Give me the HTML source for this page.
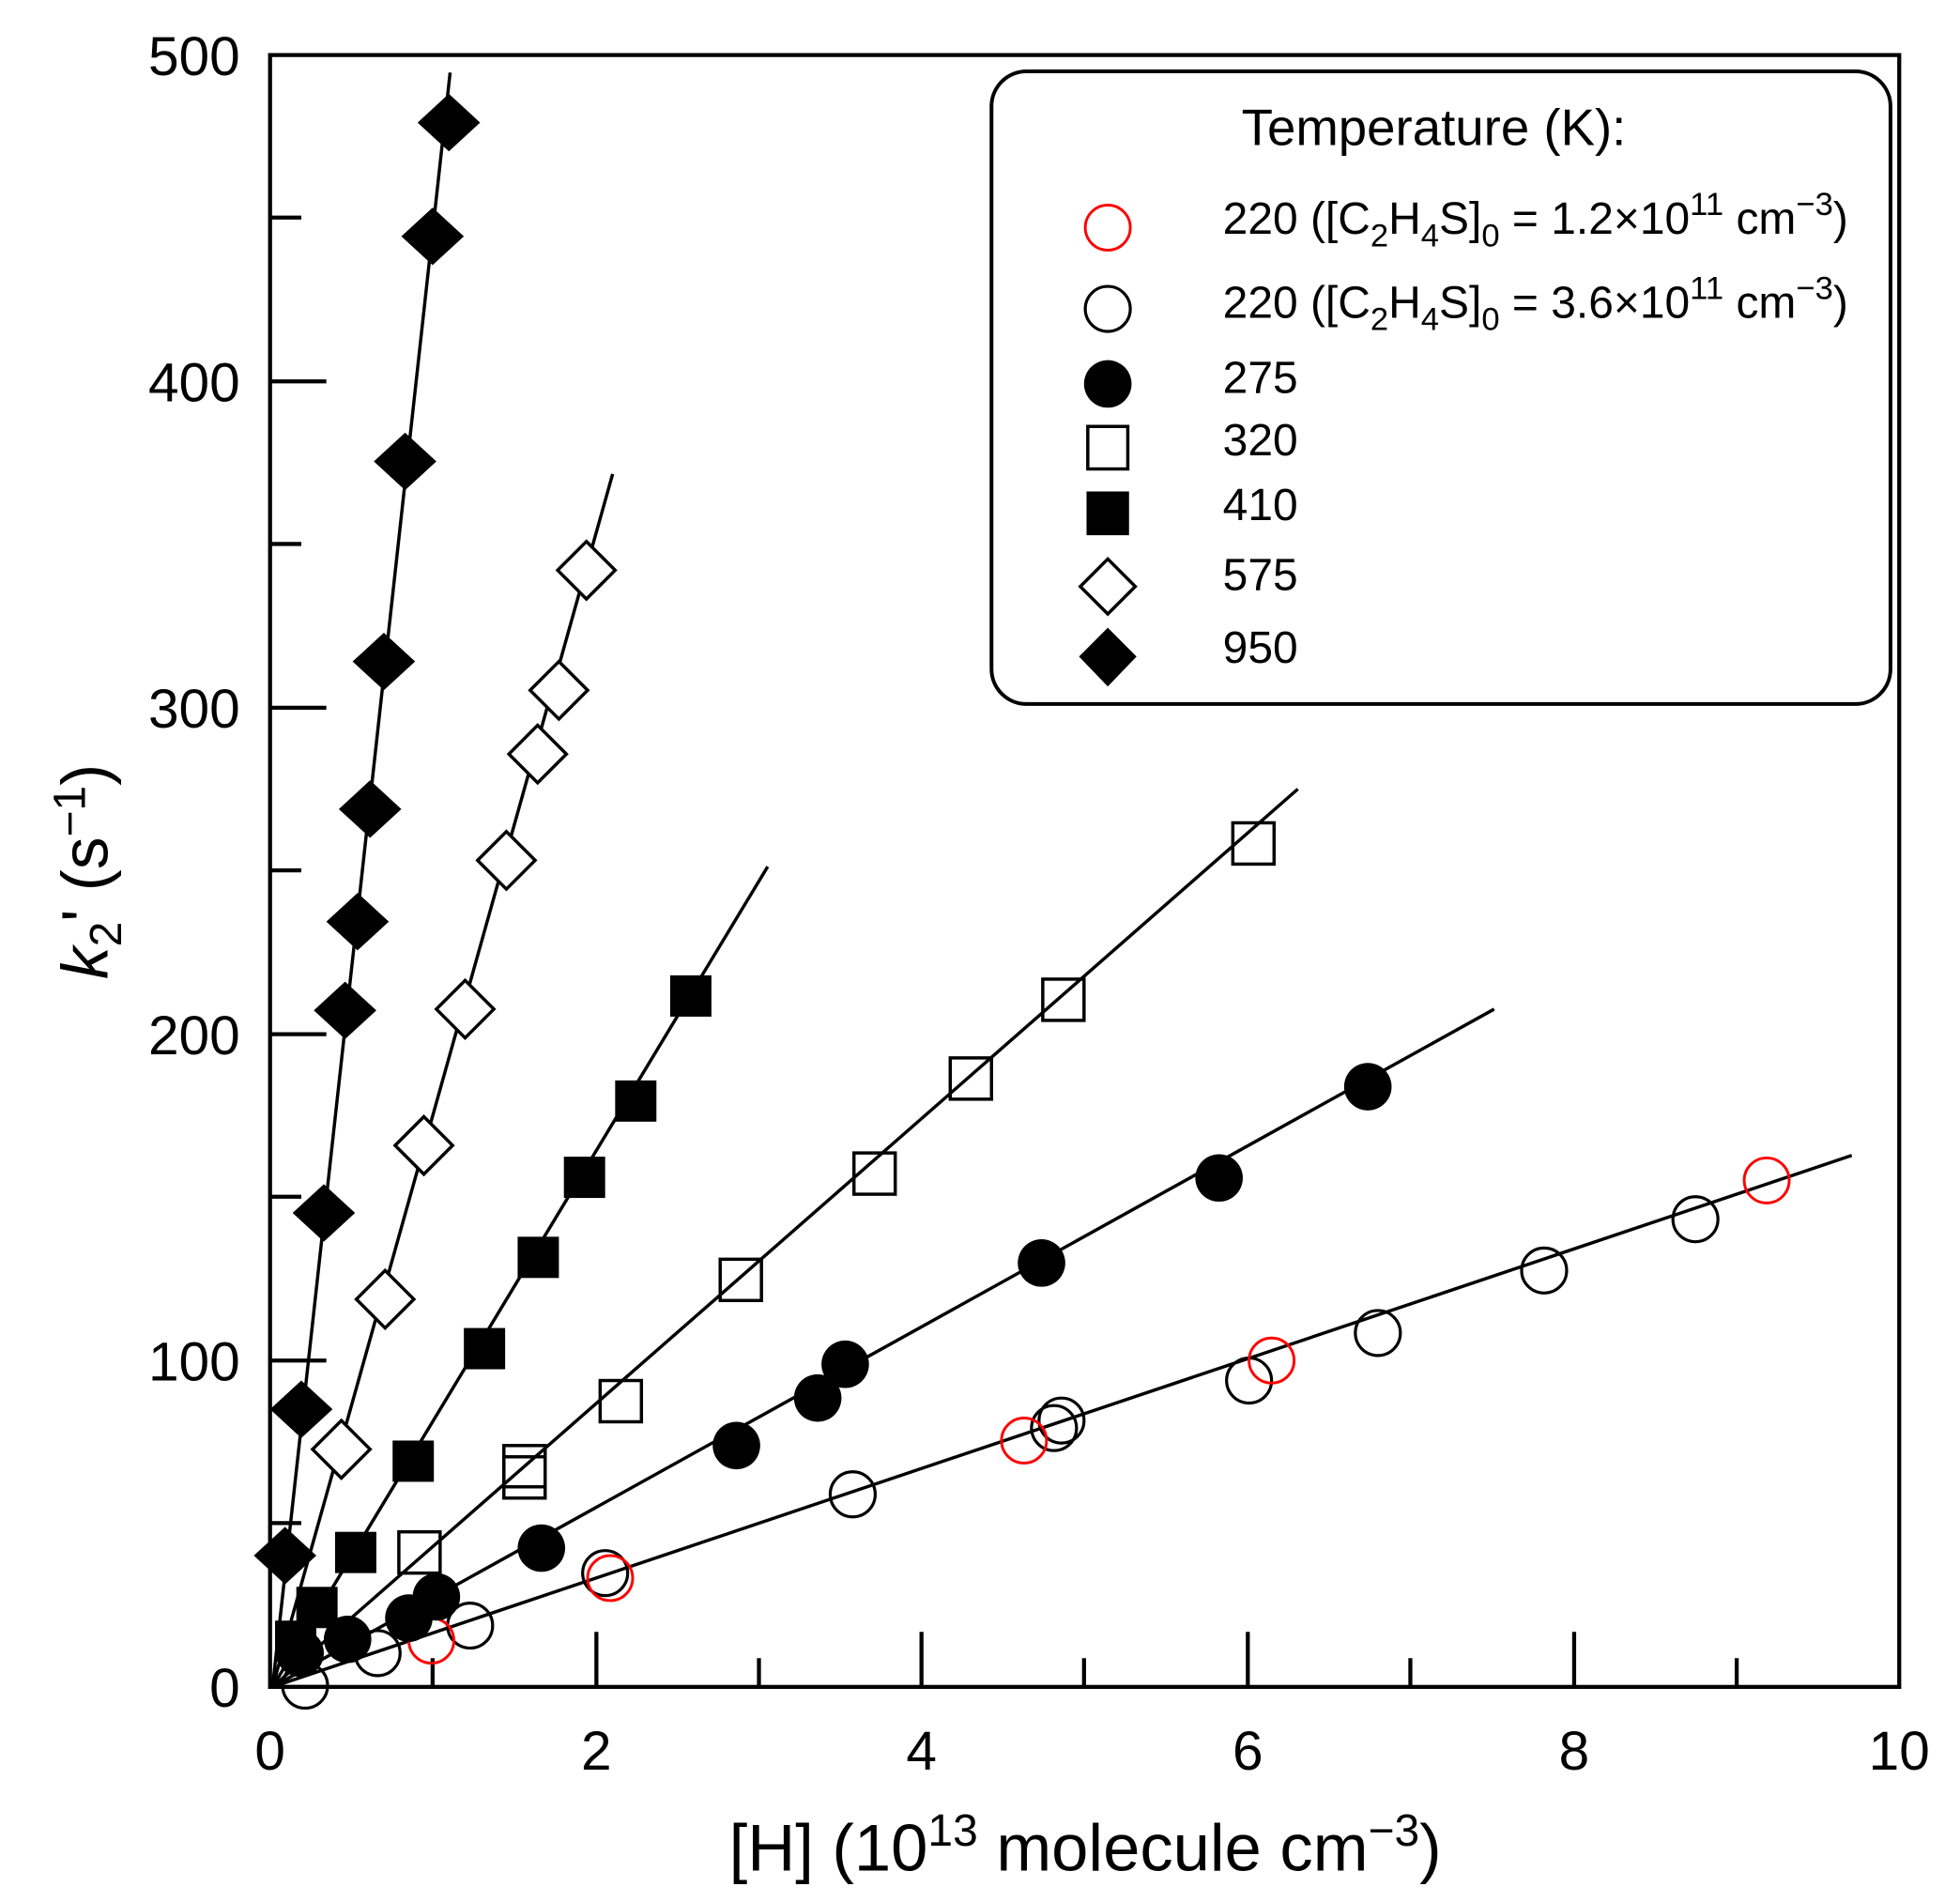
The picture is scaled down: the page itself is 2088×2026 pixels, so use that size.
<!DOCTYPE html>
<html><head><meta charset="utf-8"><style>html,body{margin:0;padding:0;background:#fff}svg{display:block}</style></head>
<body>
<svg xmlns="http://www.w3.org/2000/svg" width="2088" height="2026" viewBox="0 0 1567.6 1521" font-family="Liberation Sans, Arial, sans-serif">
<rect width="1567.6" height="1521" fill="#fff"/>
<g stroke="#000" stroke-width="2.6">
<line x1="218" y1="1349" x2="360" y2="58"/>
<line x1="218" y1="1349" x2="490" y2="379"/>
<line x1="218" y1="1349" x2="614" y2="693"/>
<line x1="218" y1="1349" x2="1038" y2="631"/>
<line x1="218" y1="1349" x2="1195" y2="807"/>
<line x1="218" y1="1349" x2="1481" y2="924"/>
</g>
<g stroke="#000" stroke-width="3.2" fill="none">
<rect x="216" y="44" width="1303" height="1305"/>
<path d="M216 1349H261M216 1088H261M216 827H261M216 566H261M216 305H261M216 1218H241M216 957H241M216 696H241M216 435H241M216 174H241"/>
<path d="M477 1349V1305M737 1349V1305M998 1349V1305M1259 1349V1305M346 1349V1326M607 1349V1326M867 1349V1326M1128 1349V1326M1389 1349V1326"/>
</g>
<g font-size="44" fill="#000" text-anchor="end">
<text x="192" y="1365">0</text><text x="192" y="1104">100</text><text x="192" y="843">200</text><text x="192" y="582">300</text><text x="192" y="321">400</text><text x="192" y="60">500</text>
</g>
<g font-size="44" fill="#000" text-anchor="middle">
<text x="216" y="1415">0</text><text x="477" y="1415">2</text><text x="737" y="1415">4</text><text x="998" y="1415">6</text><text x="1259" y="1415">8</text><text x="1519" y="1415">10</text>
</g>
<text x="868" y="1496" font-size="53" text-anchor="middle">[H] (10<tspan font-size="36" dy="-20">13</tspan><tspan dy="20"> molecule cm</tspan><tspan font-size="36" dy="-20">−3</tspan><tspan dy="20">)</tspan></text>
<text transform="translate(86,697) rotate(-90)" font-size="52" text-anchor="middle"><tspan font-style="italic">k</tspan><tspan font-size="36" dy="11">2</tspan><tspan dy="-11">' (s</tspan><tspan font-size="36" dy="-18">−1</tspan><tspan dy="18">)</tspan></text>
<g fill="none" stroke="#000" stroke-width="2.4">
<circle cx="244" cy="1348" r="18"/><circle cx="302" cy="1322" r="18"/><circle cx="376" cy="1300" r="18"/><circle cx="484" cy="1258" r="18"/><circle cx="682" cy="1195" r="18"/><circle cx="843" cy="1142" r="18"/><circle cx="849" cy="1136" r="18"/><circle cx="999" cy="1104" r="18"/><circle cx="1102" cy="1066" r="18"/><circle cx="1235" cy="1016" r="18"/><circle cx="1356" cy="975" r="18"/>
</g>
<g fill="none" stroke="#f00" stroke-width="2.2">
<circle cx="345" cy="1312" r="18"/><circle cx="488" cy="1262" r="18"/><circle cx="819" cy="1152" r="18"/><circle cx="1017" cy="1088" r="18"/><circle cx="1413" cy="944" r="18"/>
</g>
<g fill="#000">
<circle cx="240" cy="1322" r="19"/><circle cx="278" cy="1311" r="19"/><circle cx="327" cy="1294" r="19"/><circle cx="349" cy="1277" r="19"/><circle cx="433" cy="1238" r="19"/><circle cx="589" cy="1156" r="19"/><circle cx="654" cy="1118" r="19"/><circle cx="676" cy="1091" r="19"/><circle cx="833" cy="1010" r="19"/><circle cx="975" cy="942" r="19"/><circle cx="1094" cy="869" r="19"/>
</g>
<g fill="none" stroke="#000" stroke-width="2.6">
<rect x="319" y="1225" width="33" height="33"/><rect x="403" y="1156" width="33" height="33"/><rect x="403" y="1165" width="33" height="33"/><rect x="480" y="1104" width="33" height="33"/><rect x="576" y="1007" width="33" height="33"/><rect x="683" y="922" width="33" height="33"/><rect x="760" y="846" width="33" height="33"/><rect x="834" y="783" width="33" height="33"/><rect x="986" y="658" width="33" height="33"/>
</g>
<g fill="#000">
<rect x="220" y="1296" width="33" height="33"/><rect x="237" y="1269" width="33" height="33"/><rect x="268" y="1225" width="33" height="33"/><rect x="314" y="1152" width="33" height="33"/><rect x="371" y="1062" width="33" height="33"/><rect x="414" y="989" width="33" height="33"/><rect x="451" y="925" width="33" height="33"/><rect x="492" y="864" width="33" height="33"/><rect x="536" y="780" width="33" height="33"/>
</g>
<g fill="#fff" stroke="#000" stroke-width="2.6">
<path d="M273 1136l23 23-23 23-23-23z"/><path d="M308 1016l23 23-23 23-23-23z"/><path d="M339 893l23 23-23 23-23-23z"/><path d="M372 784l23 23-23 23-23-23z"/><path d="M405 665l23 23-23 23-23-23z"/><path d="M430 580l23 23-23 23-23-23z"/><path d="M447 529l23 23-23 23-23-23z"/><path d="M469 433l23 23-23 23-23-23z"/>
</g>
<g fill="#000">
<path d="M228 1221l25 23-25 23-25-23z"/><path d="M241 1104l25 23-25 23-25-23z"/><path d="M259 947l25 23-25 23-25-23z"/><path d="M276 785l25 23-25 23-25-23z"/><path d="M286 714l25 23-25 23-25-23z"/><path d="M296 624l25 23-25 23-25-23z"/><path d="M307 506l25 23-25 23-25-23z"/><path d="M324 346l25 23-25 23-25-23z"/><path d="M346 166l25 23-25 23-25-23z"/><path d="M359 75l25 23-25 23-25-23z"/>
</g>
<rect x="793" y="57" width="719" height="506" rx="28" fill="#fff" stroke="#000" stroke-width="3"/>
<text x="993" y="116" font-size="41">Temperature (K):</text>
<circle cx="886" cy="182" r="18" fill="none" stroke="#f00" stroke-width="2.2"/>
<circle cx="886" cy="247" r="18" fill="none" stroke="#000" stroke-width="2.4"/>
<circle cx="886" cy="307" r="19" fill="#000"/>
<rect x="870" y="341" width="32" height="34" fill="none" stroke="#000" stroke-width="2.6"/>
<rect x="869" y="393" width="34" height="35" fill="#000"/>
<path d="M886 447l22 22-22 22-22-22z" fill="#fff" stroke="#000" stroke-width="2.6"/>
<path d="M886 502l23 23-23 24-23-24z" fill="#000"/>
<g font-size="36">
<text x="978" y="187">220 ([C<tspan font-size="26" dy="10">2</tspan><tspan dy="-10">H</tspan><tspan font-size="26" dy="10">4</tspan><tspan dy="-10">S]</tspan><tspan font-size="26" dy="10">0</tspan><tspan dy="-10"> = 1.2×10</tspan><tspan font-size="26" dy="-15">11</tspan><tspan dy="15"> cm</tspan><tspan font-size="26" dy="-15">−3</tspan><tspan dy="15">)</tspan></text>
<text x="978" y="254">220 ([C<tspan font-size="26" dy="10">2</tspan><tspan dy="-10">H</tspan><tspan font-size="26" dy="10">4</tspan><tspan dy="-10">S]</tspan><tspan font-size="26" dy="10">0</tspan><tspan dy="-10"> = 3.6×10</tspan><tspan font-size="26" dy="-15">11</tspan><tspan dy="15"> cm</tspan><tspan font-size="26" dy="-15">−3</tspan><tspan dy="15">)</tspan></text>
<text x="978" y="314">275</text><text x="978" y="364">320</text><text x="978" y="416">410</text><text x="978" y="472">575</text><text x="978" y="530">950</text>
</g>
</svg>
</body></html>
